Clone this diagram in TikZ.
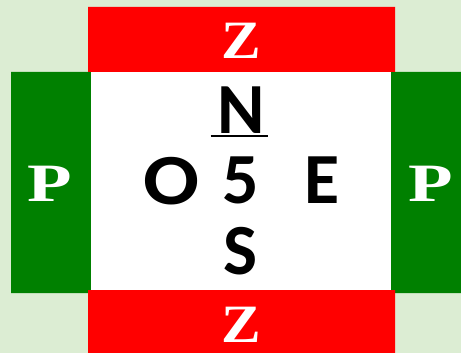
\documentclass[tikz,border=0pt]{standalone}
\usepackage{graphicx}
\usepackage{fontspec}
\setmainfont{Carlito}
\newfontfamily\serifbold{Liberation Serif}
\definecolor{bgg}{RGB}{220,237,211}
\definecolor{ggreen}{RGB}{0,128,0}
\tikzset{
	letter/.style={inner sep=0pt,anchor=base,font=\fontsize{72}{72}\selectfont\bfseries},
	edge/.style={inner sep=0pt,anchor=base,text=white,font=\fontsize{54}{54}\selectfont\serifbold\bfseries}
}
\begin{document}
\begin{tikzpicture}[x=1pt,y=-1pt]
			\fill[bgg] (0,0) rectangle (461,353);
			\useasboundingbox (0,0) rectangle (461,353);
			\fill[ggreen] (11,72) rectangle (91,293)
			(391,72) rectangle (461,293);
			\fill[white] (91,72) rectangle (391,290);
			\fill[red] (88,7) rectangle (395,72)
			(88,290) rectangle (395,353);
			\foreach \x/\y/\n in {241/59/zt,241/342/zb}{
				\node[edge] (\n) at (\x,\y) {\scalebox{1.1}[1]{Z}};
			}
			\foreach \x/\y/\n in {49.5/201/pl,430.5/201/pr}{
				\node[edge] (\n) at (\x,\y) {\scalebox{1.35}[1]{P}};
			}
			\foreach \x/\y/\n/\t/\w in {241.5/133/n/N/1,171/204/o/O/1.15,241/203/five/5/1,322.5/203/e/E/1,240.5/274/s/S/1}{
				\node[letter] (\n) at (\x,\y) {\scalebox{\w}[1]{\t}};
			}
			\draw[line width=2.5pt] ([xshift=-7pt,yshift=-3pt]n.base west)--([xshift=3pt,yshift=-3pt]n.base east);
		\end{tikzpicture}
\end{document}
